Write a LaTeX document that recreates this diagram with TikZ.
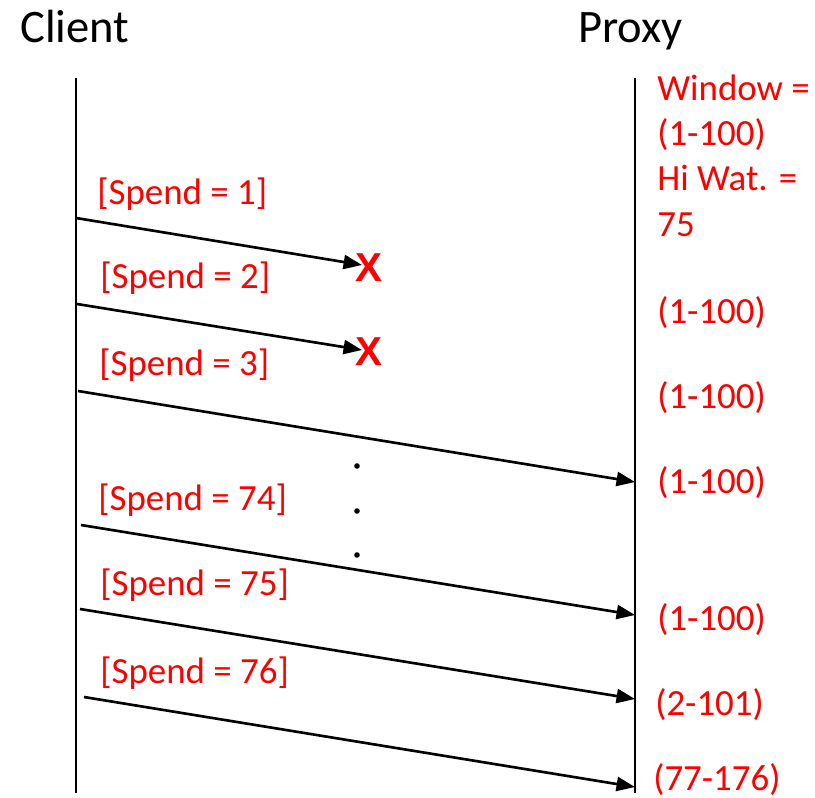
\documentclass[tikz,border=0pt]{standalone}
\usepackage{fontspec}
\setmainfont{Carlito}
\newfontfamily\crossfont{Liberation Sans}
\usetikzlibrary{arrows.meta}

\begin{document}
\begin{tikzpicture}[x=0.02cm,y=-0.02cm,
  life/.style={line width=0.9pt},
  msg/.style={line width=1.5pt,-{Triangle[length=10.5pt,width=8pt]}},
  role/.style={anchor=base west,inner sep=0pt,font=\fontsize{26.5}{30}\selectfont},
  spend/.style={anchor=base west,inner sep=0pt,text=red,font=\fontsize{21}{25}\selectfont},
  state/.style={anchor=base west,inner sep=0pt,text=red,font=\fontsize{21}{25}\selectfont},
  lost/.style={inner sep=0pt,text=red,font=\crossfont\bfseries\fontsize{23}{26}\selectfont}]
\useasboundingbox (0,0) rectangle (815,798);

% lifelines
\node[role] (client) at (20,42) {Client};
\node[role] (proxy) at (578,42) {Proxy};
\coordinate (c-top) at (76,78);
\coordinate (c-bot) at (76,793);
\coordinate (p-top) at (635,78);
\coordinate (p-bot) at (635,793);
\draw[life] (c-top) -- (c-bot);
\draw[life] (p-top) -- (p-bot);

% proxy state
\node[state] (win) at (657,100) {Window =};
\node[state] (win-r) at (657,145) {(1-100)};
\node[state] (hw) at (657,190) {Hi Wat. =};
\node[state] (hw-v) at (657,236) {75};
\node[state] (s1) at (657,323) {(1-100)};
\node[state] (s2) at (657,408) {(1-100)};
\node[state] (s3) at (657,493) {(1-100)};
\node[state] (s4) at (657,630) {(1-100)};
\node[state] (s5) at (655,715) {(2-101)};
\node[state] (s6) at (653,790) {(77-176)};

% spend messages
\coordinate (m1-s) at (76,218);  \coordinate (m1-e) at (362,265);
\coordinate (m2-s) at (77,304);  \coordinate (m2-e) at (362,350);
\coordinate (m3-s) at (78,391);  \coordinate (m3-e) at (635,482);
\coordinate (m4-s) at (81,525);  \coordinate (m4-e) at (635,615);
\coordinate (m5-s) at (80,609);  \coordinate (m5-e) at (635,699);
\coordinate (m6-s) at (84,697);  \coordinate (m6-e) at (635,787);
\node[lost] (x1) at (369,268) {X};
\node[lost] (x2) at (369,352) {X};

\path[msg]
(m1-s) edge (m1-e)
(m2-s) edge (m2-e)
(m3-s) edge (m3-e)
(m4-s) edge (m4-e)
(m5-s) edge (m5-e)
(m6-s) edge (m6-e)
;

\node[spend] (l1) at (97,204) {[Spend = 1]};
\node[spend] (l2) at (100,288) {[Spend = 2]};
\node[spend] (l3) at (99,375) {[Spend = 3]};
\node[spend] (l74) at (98,510) {[Spend = 74]};
\node[spend] (l75) at (100,595) {[Spend = 75]};
\node[spend] (l76) at (100,683) {[Spend = 76]};

% gap between 3 and 74
\foreach \y in {466,511,555}
  \fill (357,\y) circle (2.8);
\end{tikzpicture}
\end{document}
